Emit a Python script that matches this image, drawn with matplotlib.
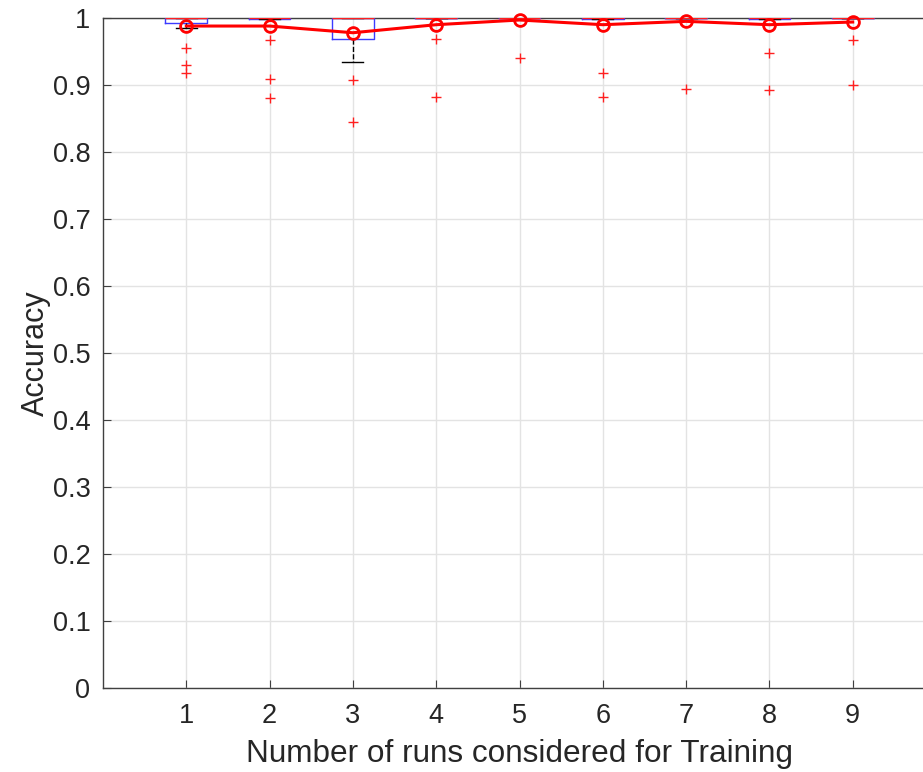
import matplotlib
matplotlib.use("Agg")
import matplotlib.pyplot as plt

plt.rcParams['font.family'] = ['Liberation Sans', 'DejaVu Sans']

runs = [1, 2, 3, 4, 5, 6, 7, 8, 9]
q1 = [0.9925, 0.999, 0.969, 1.0, 1.0, 0.999, 1.0, 0.998, 1.0]
q3 = [1.0, 1.0, 1.0, 1.0, 1.0, 1.0, 1.0, 1.0, 1.0]
medians = [1.0, 1.0, 1.0, 1.0, 1.0, 1.0, 1.0, 1.0, 1.0]
whisker_low = [0.985, 0.999, 0.934, 1.0, 1.0, 0.999, 1.0, 0.998, 1.0]
whisker_high = [1.0, 1.0, 1.0, 1.0, 1.0, 1.0, 1.0, 1.0, 1.0]
outliers = [
    [0.955, 0.930, 0.918],
    [0.967, 0.909, 0.881],
    [0.907, 0.845],
    [0.969, 0.882],
    [0.940],
    [0.918, 0.882],
    [0.894],
    [0.948, 0.893],
    [0.967, 0.900],
]
mean_acc = [0.988, 0.988, 0.978, 0.990, 0.997, 0.990, 0.995, 0.990, 0.994]

fig = plt.figure(figsize=(9.23, 7.72), dpi=100)
ax = fig.add_axes([103 / 923, 84 / 772, 833 / 923, 670 / 772])

stats = []
for i in range(len(runs)):
    stats.append(dict(med=medians[i], q1=q1[i], q3=q3[i],
                      whislo=whisker_low[i], whishi=whisker_high[i],
                      fliers=outliers[i]))

ax.bxp(stats, positions=runs, widths=0.5, showfliers=True,
       boxprops=dict(color='#3b3bff', linewidth=1.0),
       medianprops=dict(color='#ff2020', linewidth=1.0),
       whiskerprops=dict(color='black', linewidth=1.0, linestyle='--'),
       capprops=dict(color='black', linewidth=1.0),
       capwidths=0.25,
       flierprops=dict(marker='+', markeredgecolor='#ff2020', markersize=7,
                       linestyle='none', markeredgewidth=1.0),
       manage_ticks=False, zorder=3)

ax.plot(runs, mean_acc, color='#ff0000', linewidth=2.2, marker='o',
        markerfacecolor='none', markeredgecolor='#ff0000', markersize=8.5,
        markeredgewidth=2.0, zorder=4, clip_on=False)

ax.set_xlim(0, 10)
ax.set_ylim(0, 1)
ax.set_xticks(runs)
ax.set_yticks([i / 10 for i in range(11)])
ax.set_yticklabels(['0', '0.1', '0.2', '0.3', '0.4', '0.5', '0.6', '0.7',
                    '0.8', '0.9', '1'])
ax.grid(True, color='#e3e3e3', linewidth=1.0)
ax.set_axisbelow(True)

txt = '#262626'
for s in ax.spines.values():
    s.set_color('#404040')
    s.set_linewidth(1.0)
ax.tick_params(direction='in', length=6, color='#404040', labelcolor=txt,
               labelsize=19.5, top=False, right=False)
ax.tick_params(axis='x', pad=11)
ax.tick_params(axis='y', pad=9)
ax.set_xlabel('Number of runs considered for Training', fontsize=22.7,
              color=txt, labelpad=7)
ax.set_ylabel('Accuracy', fontsize=22, color=txt, labelpad=1)

fig.savefig('out.png', dpi=100)
